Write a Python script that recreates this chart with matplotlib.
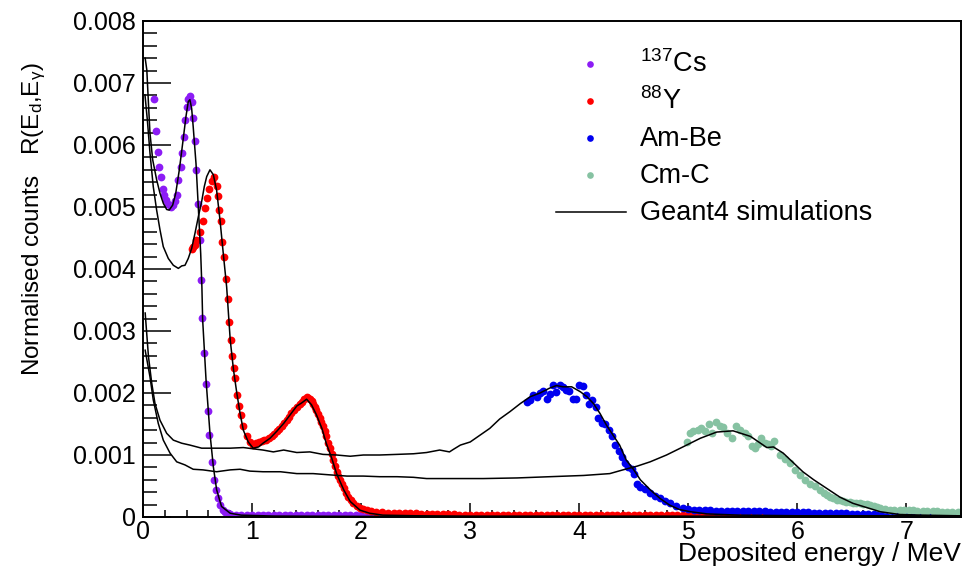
import numpy as np
import matplotlib
matplotlib.use('Agg')
import matplotlib.pyplot as plt
from matplotlib.ticker import MultipleLocator, FuncFormatter

plt.rcParams['font.family'] = ['Liberation Sans', 'DejaVu Sans']
plt.rcParams['mathtext.fontset'] = 'custom'
plt.rcParams['mathtext.rm'] = 'Liberation Sans'
plt.rcParams['mathtext.it'] = 'Liberation Sans:italic'
plt.rcParams['mathtext.default'] = 'regular'

# all counts in units of 1e-3
# --- 137Cs data
cs_e = [0.104, 0.12, 0.135, 0.15, 0.165, 0.18, 0.195, 0.21, 0.232, 0.254,
        0.272, 0.293, 0.309, 0.324, 0.346, 0.36, 0.376, 0.385, 0.40, 0.415,
        0.43, 0.45, 0.46, 0.477, 0.49, 0.50, 0.52, 0.535, 0.545, 0.559,
        0.578, 0.593, 0.608, 0.636, 0.65, 0.67, 0.688, 0.706, 0.73, 0.75, 0.78]
cs_v = [6.74, 6.23, 5.89, 5.65, 5.48, 5.29, 5.19, 5.11, 5.05, 5.00,
        5.04, 5.09, 5.19, 5.44, 5.65, 5.87, 6.13, 6.41, 6.61, 6.75,
        6.79, 6.70, 6.44, 6.07, 5.60, 5.05, 4.46, 3.82, 3.21, 2.65,
        2.15, 1.71, 1.33, 0.88, 0.60, 0.44, 0.31, 0.19, 0.11, 0.08, 0.06]
cs_tail = [0.05, 0.04, 0.04, 0.03, 0.03, 0.03, 0.03, 0.03, 0.03, 0.03,
           0.03, 0.03, 0.03, 0.03, 0.03, 0.03, 0.03, 0.03, 0.03, 0.03,
           0.03, 0.03, 0.03, 0.03, 0.03, 0.02, 0.03, 0.03, 0.02, 0.03,
           0.02, 0.03, 0.02, 0.02, 0.03, 0.02, 0.02, 0.02, 0.02, 0.02,
           0.02, 0.02, 0.02, 0.02, 0.02, 0.02, 0.02, 0.02, 0.02, 0.02,
           0.02, 0.02, 0.02, 0.02, 0.02, 0.02, 0.02, 0.02, 0.02, 0.02,
           0.02, 0.02, 0.02, 0.02, 0.02, 0.02, 0.02, 0.02, 0.02, 0.02,
           0.02, 0.02, 0.02, 0.02, 0.02, 0.02, 0.02, 0.02, 0.02, 0.02,
           0.02, 0.02, 0.02, 0.02, 0.02, 0.02, 0.02, 0.02, 0.02, 0.02,
           0.02, 0.02, 0.02, 0.02, 0.02, 0.02, 0.02, 0.02, 0.02, 0.02,
           0.02, 0.02, 0.02, 0.02, 0.02, 0.02, 0.02, 0.02, 0.02, 0.02,
           0.02, 0.02, 0.02, 0.02, 0.02, 0.02, 0.02, 0.02, 0.02, 0.02,
           0.02, 0.02, 0.02, 0.02, 0.02, 0.02, 0.02, 0.02, 0.02, 0.02,
           0.02, 0.02, 0.02, 0.02, 0.02]
cs_tail_start = 0.80

# --- 88Y data
y_e = [0.446, 0.46, 0.477, 0.49, 0.52, 0.547, 0.568, 0.584, 0.608, 0.63,
       0.654, 0.675, 0.69, 0.70, 0.715, 0.727, 0.743, 0.761, 0.776, 0.79,
       0.806, 0.819, 0.834, 0.846, 0.865, 0.877, 0.895, 0.92, 0.95, 0.98,
       1.01, 1.04, 1.065, 1.09, 1.11, 1.13, 1.155, 1.18, 1.205, 1.23,
       1.25, 1.27, 1.295, 1.32, 1.34, 1.36, 1.385, 1.41, 1.435, 1.455,
       1.48, 1.50, 1.515, 1.53, 1.545, 1.56, 1.575, 1.59, 1.605, 1.62,
       1.635, 1.65, 1.665, 1.68, 1.695, 1.71, 1.73, 1.745, 1.76, 1.775,
       1.79, 1.81, 1.825, 1.84, 1.86, 1.88, 1.905, 1.93, 1.96, 1.99,
       2.02, 2.05, 2.09, 2.14, 2.19]
y_v = [4.32, 4.36, 4.39, 4.47, 4.59, 4.78, 4.98, 5.14, 5.29, 5.42,
       5.49, 5.34, 5.18, 4.95, 4.78, 4.44, 4.19, 3.84, 3.52, 3.14,
       2.85, 2.60, 2.40, 2.24, 1.97, 1.79, 1.65, 1.46, 1.30, 1.21,
       1.16, 1.19, 1.21, 1.23, 1.24, 1.25, 1.27, 1.30, 1.34, 1.38,
       1.42, 1.46, 1.51, 1.56, 1.61, 1.67, 1.72, 1.78, 1.82, 1.86,
       1.90, 1.93, 1.92, 1.90, 1.87, 1.83, 1.78, 1.73, 1.66, 1.59,
       1.53, 1.46, 1.38, 1.30, 1.20, 1.11, 1.01, 0.92, 0.82, 0.73,
       0.66, 0.60, 0.53, 0.46, 0.39, 0.33, 0.27, 0.23, 0.18, 0.15,
       0.13, 0.11, 0.095, 0.085, 0.075]
y_tail = [0.07, 0.07, 0.065, 0.06, 0.06, 0.06, 0.055, 0.05, 0.05, 0.05,
          0.05, 0.045, 0.045, 0.04, 0.04, 0.04, 0.04, 0.04, 0.04, 0.04,
          0.035, 0.035, 0.035, 0.035, 0.035, 0.03, 0.03, 0.03, 0.03, 0.03,
          0.03, 0.03, 0.03, 0.03, 0.03, 0.03, 0.03, 0.03, 0.03, 0.03,
          0.03, 0.03, 0.03, 0.03, 0.03, 0.03, 0.03, 0.03, 0.03, 0.03,
          0.03, 0.03, 0.03, 0.03, 0.03, 0.03, 0.03, 0.03, 0.03, 0.03,
          0.03, 0.03, 0.03, 0.03, 0.03, 0.03, 0.03, 0.03, 0.03, 0.03,
          0.03, 0.03, 0.03, 0.03, 0.03, 0.03, 0.03, 0.03, 0.03, 0.03,
          0.03, 0.03, 0.03, 0.03, 0.03, 0.03, 0.03, 0.03, 0.03, 0.03,
          0.03, 0.03, 0.03, 0.03, 0.03, 0.03, 0.03, 0.03, 0.03, 0.03,
          0.03, 0.03, 0.03, 0.03, 0.03, 0.03]
y_tail_start = 2.25

# --- Am-Be data
ambe_e = [3.52, 3.55, 3.58, 3.615, 3.64, 3.67, 3.70, 3.73, 3.76, 3.79,
          3.82, 3.85, 3.88, 3.91, 3.94, 3.97, 4.00, 4.03, 4.06, 4.09,
          4.12, 4.15, 4.17, 4.205, 4.235, 4.27, 4.30, 4.33, 4.36, 4.39,
          4.42, 4.45, 4.48, 4.50, 4.53, 4.56, 4.60, 4.65, 4.69, 4.74,
          4.79, 4.83, 4.89, 4.95, 5.00]
ambe_v = [1.85, 1.89, 1.97, 1.94, 2.00, 2.04, 1.91, 1.98, 2.13, 2.01,
          2.13, 2.10, 2.05, 2.04, 1.90, 1.90, 2.13, 2.12, 1.97, 1.83,
          1.88, 1.77, 1.59, 1.52, 1.50, 1.40, 1.30, 1.16, 1.07, 0.96,
          0.87, 0.80, 0.78, 0.70, 0.54, 0.49, 0.45, 0.39, 0.34, 0.30,
          0.26, 0.22, 0.18, 0.15, 0.13]
ambe_tail = [0.12, 0.12, 0.11, 0.11, 0.10, 0.10, 0.10, 0.10, 0.095, 0.095,
             0.09, 0.09, 0.09, 0.09, 0.085, 0.085, 0.085, 0.08, 0.08, 0.08,
             0.075, 0.075, 0.07, 0.07, 0.07, 0.065, 0.065, 0.06, 0.06, 0.055,
             0.055, 0.05, 0.05, 0.05, 0.05, 0.045, 0.045, 0.045, 0.04, 0.04,
             0.04, 0.04, 0.04, 0.035, 0.035, 0.035, 0.03, 0.03, 0.03, 0.03]
ambe_tail_start = 5.05

# --- Cm-C data
cmc_e = [4.985, 5.015, 5.045, 5.09, 5.12, 5.15, 5.19, 5.22, 5.25, 5.29,
         5.32, 5.35, 5.40, 5.44, 5.47, 5.52, 5.55, 5.58, 5.61, 5.64,
         5.67, 5.70, 5.73, 5.76, 5.79, 5.84, 5.885, 5.93, 5.98, 6.02,
         6.07, 6.115, 6.16, 6.21, 6.24, 6.27, 6.30, 6.33, 6.36, 6.39,
         6.42, 6.45, 6.48, 6.51, 6.54, 6.57, 6.60, 6.64, 6.67, 6.70,
         6.73, 6.76, 6.80, 6.85, 6.89, 6.94, 6.98, 7.02, 7.06, 7.10,
         7.15, 7.19, 7.24, 7.28, 7.33, 7.37, 7.42, 7.47]
cmc_v = [1.21, 1.35, 1.38, 1.40, 1.43, 1.39, 1.50, 1.35, 1.53, 1.46,
         1.45, 1.35, 1.27, 1.47, 1.40, 1.36, 1.31, 1.15, 1.12, 1.17,
         1.27, 1.19, 1.17, 1.15, 1.23, 1.00, 0.93, 0.87, 0.76, 0.68,
         0.60, 0.53, 0.50, 0.44, 0.39, 0.35, 0.32, 0.30, 0.28, 0.27,
         0.26, 0.25, 0.24, 0.23, 0.22, 0.22, 0.21, 0.21, 0.19, 0.17,
         0.16, 0.15, 0.13, 0.12, 0.115, 0.11, 0.11, 0.11, 0.11, 0.10,
         0.10, 0.095, 0.09, 0.09, 0.085, 0.085, 0.08, 0.08]

# --- Geant4 simulations
sim_cs_e = [0.02, 0.035, 0.05, 0.064, 0.089, 0.125, 0.156, 0.186, 0.217, 0.24,
            0.272, 0.30, 0.333, 0.364, 0.394, 0.415, 0.43, 0.446, 0.46, 0.486,
            0.507, 0.529, 0.54, 0.547, 0.578, 0.614, 0.645, 0.675, 0.72, 0.80,
            0.90, 1.2, 2.0, 3.0, 4.0, 5.0, 6.0, 7.0, 7.5]
sim_cs_v = [7.40, 7.21, 6.67, 6.19, 5.76, 5.44, 5.22, 5.06, 4.96, 4.95,
            5.03, 5.22, 5.60, 6.03, 6.46, 6.70, 6.73, 6.59, 6.30, 5.70,
            5.00, 4.25, 3.71, 3.18, 2.21, 1.35, 0.81, 0.44, 0.17, 0.06,
            0.03, 0.015, 0.01, 0.01, 0.01, 0.01, 0.01, 0.01, 0.01]

sim_y_e = [0.018, 0.04, 0.064, 0.094, 0.125, 0.156, 0.186, 0.232, 0.278, 0.324,
           0.355, 0.385, 0.415, 0.446, 0.477, 0.507, 0.538, 0.562, 0.584, 0.614,
           0.645, 0.675, 0.706, 0.736, 0.767, 0.80, 0.83, 0.86, 0.89, 0.92,
           0.965, 1.01, 1.06, 1.10, 1.165, 1.225, 1.29, 1.35, 1.41, 1.455,
           1.50, 1.545, 1.59, 1.64, 1.68, 1.73, 1.775, 1.84, 1.90, 1.99,
           2.08, 2.20, 2.5, 3.0, 4.0, 5.0, 6.0, 7.0, 7.5]
sim_y_v = [6.81, 6.40, 5.87, 5.33, 4.95, 4.63, 4.36, 4.17, 4.06, 4.01,
           4.05, 4.06, 4.17, 4.33, 4.58, 4.84, 5.09, 5.33, 5.49, 5.60,
           5.52, 5.27, 4.79, 4.25, 3.71, 2.85, 2.37, 2.00, 1.67, 1.40,
           1.21, 1.11, 1.13, 1.19, 1.27, 1.38, 1.51, 1.65, 1.79, 1.84,
           1.90, 1.81, 1.65, 1.43, 1.19, 0.95, 0.70, 0.44, 0.25, 0.11,
           0.06, 0.03, 0.02, 0.01, 0.01, 0.01, 0.01, 0.01, 0.01]

sim_ambe_e = [0.02, 0.05, 0.08, 0.11, 0.156, 0.217, 0.278, 0.355, 0.43, 0.538,
              0.645, 0.80, 0.92, 1.01, 1.10, 1.195, 1.29, 1.41, 1.53, 1.65,
              1.775, 1.90, 2.02, 2.17, 2.33, 2.48, 2.60, 2.72, 2.81, 2.845,
              2.91, 3.0, 3.09, 3.18, 3.27, 3.365, 3.46, 3.55, 3.64, 3.73,
              3.79, 3.85, 3.93, 4.01, 4.07, 4.13, 4.19, 4.25, 4.31, 4.37,
              4.43, 4.50, 4.56, 4.65, 4.74, 4.83, 4.92, 5.02, 5.17, 5.47,
              6.0, 6.5, 7.0, 7.5]
sim_ambe_v = [3.29, 2.59, 2.16, 1.83, 1.56, 1.35, 1.24, 1.19, 1.16, 1.11,
              1.11, 1.11, 1.12, 1.10, 1.08, 1.05, 1.08, 1.04, 1.05, 1.01,
              1.00, 0.98, 1.00, 1.00, 1.01, 1.02, 1.04, 1.08, 1.05, 1.09,
              1.16, 1.21, 1.32, 1.43, 1.58, 1.70, 1.83, 1.94, 2.00, 2.08,
              2.12, 2.10, 2.10, 2.02, 1.94, 1.83, 1.67, 1.48, 1.32, 1.16,
              0.92, 0.76, 0.60, 0.44, 0.30, 0.19, 0.12, 0.085, 0.05, 0.03,
              0.02, 0.02, 0.02, 0.02]

sim_cmc_e = [0.02, 0.064, 0.094, 0.14, 0.186, 0.248, 0.309, 0.385, 0.46, 0.55,
             0.675, 0.80, 0.89, 0.98, 1.10, 1.26, 1.41, 1.56, 1.71, 1.87,
             2.02, 2.17, 2.33, 2.48, 2.60, 2.81, 3.12, 3.43, 3.73, 4.04,
             4.28, 4.40, 4.53, 4.65, 4.80, 4.95, 5.11, 5.26, 5.41, 5.57,
             5.72, 5.78, 5.87, 5.96, 6.05, 6.15, 6.27, 6.39, 6.51, 6.64,
             6.76, 6.94, 7.15, 7.46]
sim_cmc_v = [2.69, 2.26, 1.89, 1.51, 1.24, 1.03, 0.89, 0.84, 0.77, 0.76,
             0.73, 0.76, 0.77, 0.74, 0.73, 0.73, 0.70, 0.70, 0.68, 0.66,
             0.66, 0.65, 0.65, 0.64, 0.62, 0.62, 0.62, 0.63, 0.65, 0.67,
             0.70, 0.76, 0.82, 0.89, 1.00, 1.13, 1.27, 1.37, 1.39, 1.30,
             1.12, 1.13, 1.03, 0.88, 0.73, 0.60, 0.46, 0.32, 0.22, 0.15,
             0.085, 0.04, 0.03, 0.02]

legend_labels = ['$^{137}$Cs', '$^{88}$Y', 'Am-Be', 'Cm-C', 'Geant4 simulations']
colors = ['#8c1cf5', '#ff0000', '#0000f0', '#86c2a2']


def tail_e(start, vals):
    return start + 0.05 * np.arange(len(vals))


fig = plt.figure(figsize=(9.64, 5.7), dpi=100)
ax = fig.add_axes([143 / 964, 53 / 570, 818 / 964, 496 / 570])

ms = 5.6
series = [
    (np.concatenate([cs_e, tail_e(cs_tail_start, cs_tail)]), np.concatenate([cs_v, cs_tail])),
    (np.concatenate([y_e, tail_e(y_tail_start, y_tail)]), np.concatenate([y_v, y_tail])),
    (np.concatenate([ambe_e, tail_e(ambe_tail_start, ambe_tail)]), np.concatenate([ambe_v, ambe_tail])),
    (np.array(cmc_e), np.array(cmc_v)),
]
for (e, v), c in zip(series, colors):
    ax.plot(e, v, 'o', color=c, ms=ms, mew=0, clip_on=True)

for e, v in [(sim_cs_e, sim_cs_v), (sim_y_e, sim_y_v),
             (sim_ambe_e, sim_ambe_v), (sim_cmc_e, sim_cmc_v)]:
    ax.plot(e, v, '-', color='black', lw=1.1)

ax.set_xlim(0, 7.5)
ax.set_ylim(0, 8)
ax.xaxis.set_major_locator(MultipleLocator(1))
ax.xaxis.set_minor_locator(MultipleLocator(0.2))
ax.yaxis.set_major_locator(MultipleLocator(1))
ax.yaxis.set_minor_locator(MultipleLocator(0.2))
ax.yaxis.set_major_formatter(FuncFormatter(lambda v, p: '0' if v == 0 else '%.3f' % (v / 1000)))
ax.xaxis.set_major_formatter(FuncFormatter(lambda v, p: '%d' % v))
ax.tick_params(axis='both', which='both', direction='in', width=1.1, labelsize=18,
               top=False, right=False)
ax.tick_params(axis='y', which='major', length=20, pad=5)
ax.tick_params(axis='y', which='minor', length=10)
ax.tick_params(axis='x', which='major', length=10, pad=2)
ax.tick_params(axis='x', which='minor', length=5)
for s in ax.spines.values():
    s.set_linewidth(1.4)

ax.set_xlabel('Deposited energy / MeV', fontsize=19, ha='right', va='top')
ax.xaxis.set_label_coords(1.0, -0.05)
ax.set_ylabel('Normalised counts   R(E$_{d}$,E$_{\\gamma}$)', fontsize=17.5)
ax.yaxis.set_label_coords(-0.116, 0.6)

# legend
for i, lab in enumerate(legend_labels):
    ym = (517 - (64 + 37 * i)) / 496
    yb = (517 - (72 + 37 * i)) / 496
    if i < 4:
        ax.plot([(590 - 143) / 818], [ym], 'o', color=colors[i], ms=4.8, mew=0,
                transform=ax.transAxes, clip_on=False)
    else:
        ax.plot([(556 - 143) / 818, (626 - 143) / 818], [ym, ym], '-', color='black',
                lw=1.1, transform=ax.transAxes)
    ax.text((640 - 143) / 818, yb, lab, fontsize=19.5, transform=ax.transAxes,
            ha='left', va='baseline')

fig.savefig('out.png', dpi=100)
